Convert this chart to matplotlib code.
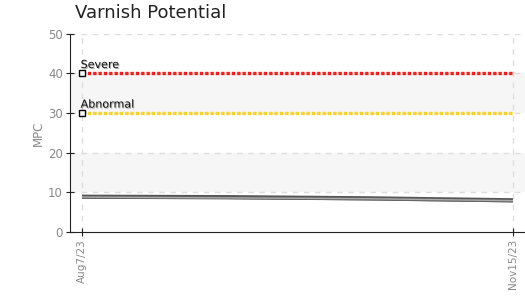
import numpy as np
import matplotlib
matplotlib.use("Agg")
import matplotlib.pyplot as plt
import matplotlib.dates as mdates
import matplotlib.patheffects as pe

# --- dati ---
dates = np.array(["2023-08-07", "2023-09-09", "2023-10-12", "2023-11-15"], dtype="datetime64[D]")
series_dark = [8.9, 8.8, 8.5, 8.0]
series_mid = [8.7, 8.6, 8.3, 7.8]
series_light = [8.8, 8.6, 8.4, 7.9]
limit_names = ["Severe", "Abnormal"]
limit_values = [40, 30]
limit_colors = ["#ff1a1a", "#ffd21a"]
tick_dates = [dates[0], dates[-1]]
tick_labels = ["Aug7/23", "Nov15/23"]
bands = [(10, 20), (30, 40)]

plt.rcParams['font.family'] = ['DejaVu Sans']

fig = plt.figure(figsize=(5.25, 2.97), dpi=100)
ax = fig.add_axes([0.1333, 0.219, 0.8667, 0.667])

x0 = dates[0] - np.timedelta64(67, 'h')
x1 = dates[-1] + np.timedelta64(67, 'h')
ax.set_xlim(mdates.date2num(x0), mdates.date2num(x1))
ax.set_ylim(0, 50)

# bande alternate
for lo, hi in bands:
    ax.axhspan(lo, hi, color="#f6f6f6", zorder=0.5, lw=0)

# griglia tratteggiata
for y in [10, 20, 30, 40, 50]:
    ax.axhline(y, color="#dddddd", ls=(0, (4, 4)), lw=1, zorder=1)
for d in tick_dates:
    ax.axvline(mdates.date2num(d), color="#dddddd", ls=(0, (4, 4)), lw=1, zorder=1)

# soglie
for name, val, col in zip(limit_names, limit_values, limit_colors):
    ax.plot([mdates.date2num(dates[0]), mdates.date2num(dates[-1])], [val, val],
            color=col, ls=(0, (1, 0.6)), lw=2.4, zorder=3)
    ax.plot([mdates.date2num(dates[0])], [val], marker='s', ms=4.5, mfc='white',
            mec='black', mew=1, zorder=4)
    ax.annotate(name, (mdates.date2num(dates[0]), val), xytext=(-1, 2.5),
                textcoords='offset points', fontsize=8, color="#111111",
                ha='left', va='bottom',
                path_effects=[pe.withSimplePatchShadow(offset=(0.7, -0.7), shadow_rgbFace="#888888", alpha=0.7)])

# serie
xd = mdates.date2num(dates)
ax.plot(xd, series_dark, color="#555555", lw=3, zorder=5, solid_capstyle='butt')
ax.plot(xd, series_mid, color="#666666", lw=2, zorder=5, solid_capstyle='butt')
ax.plot(xd, series_light, color="#aaaaaa", lw=1, zorder=6, solid_capstyle='butt')

# assi
ax.spines['top'].set_visible(False)
ax.spines['right'].set_visible(False)
ax.spines['left'].set_color("#222222")
ax.spines['bottom'].set_color("#222222")
ax.set_yticks([0, 10, 20, 30, 40, 50])
ax.set_xticks(mdates.date2num(tick_dates))
ax.set_xticklabels(tick_labels, rotation=90)
ax.tick_params(axis='both', direction='inout', length=6, color="#222222",
               labelcolor="#888888", labelsize=8.5, pad=2)
ax.tick_params(axis='x', labelsize=7.5)
ax.set_ylabel("MPC", color="#888888", fontsize=8.5)
ax.yaxis.set_label_coords(-0.055, 0.5)

fig.text(0.143, 0.925, "Varnish Potential", fontsize=13, color="#222222",
         ha='left', va='bottom')

fig.savefig("out.png", dpi=100)
